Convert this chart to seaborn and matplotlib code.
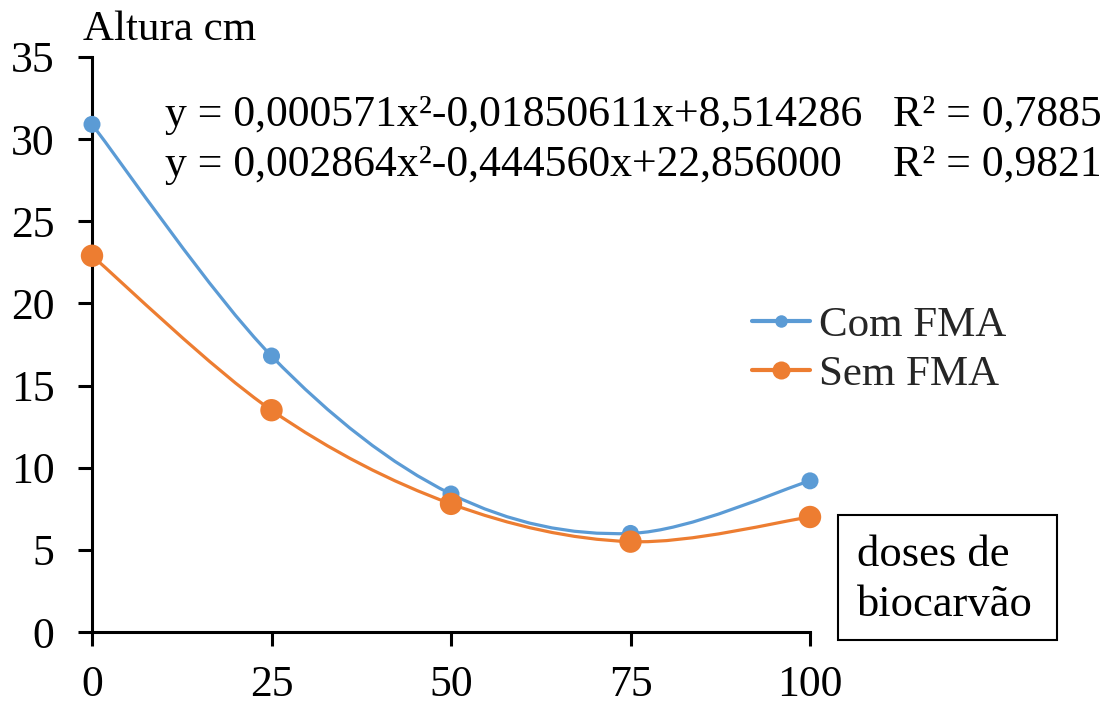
import numpy as np
import pandas as pd
import matplotlib
matplotlib.use("Agg")
import matplotlib.pyplot as plt
import seaborn as sns
from matplotlib.path import Path
from matplotlib.patches import PathPatch, Rectangle
from matplotlib.lines import Line2D

doses = [0, 25, 50, 75, 100]
com_fma = [30.9, 16.8, 8.4, 6.0, 9.2]
sem_fma = [22.9, 13.5, 7.8, 5.5, 7.0]
series_names = ["Com FMA", "Sem FMA"]
y_ticks = [0, 5, 10, 15, 20, 25, 30, 35]
x_ticks = [0, 25, 50, 75, 100]
eq_texts = ["y = 0,000571x²-0,01850611x+8,514286",
            "y = 0,002864x²-0,444560x+22,856000"]
r2_texts = ["R² = 0,7885", "R² = 0,9821"]

blue = "#5B9BD5"
orange = "#ED7D31"

sns.set_theme(style="white")
plt.rcParams["font.family"] = ["Liberation Serif", "DejaVu Serif"]

fig = plt.figure(figsize=(11.1, 7.05), dpi=100)
ax = fig.add_axes([92 / 1110, 1 - 632 / 705, (810 - 92) / 1110, (632 - 57) / 705])

df = pd.DataFrame({
    "dose": doses * 2,
    "altura": com_fma + sem_fma,
    "serie": [series_names[0]] * len(doses) + [series_names[1]] * len(doses),
})


def smooth_path(xs, ys):
    pts = np.column_stack([xs, ys]).astype(float)
    n = len(pts)
    verts = [pts[0]]
    codes = [Path.MOVETO]
    for i in range(n - 1):
        p0 = pts[i - 1] if i > 0 else pts[i]
        p1 = pts[i]
        p2 = pts[i + 1]
        p3 = pts[i + 2] if i + 2 < n else pts[i + 1]
        c1 = p1 + (p2 - p0) / 6.0
        c2 = p2 - (p3 - p1) / 6.0
        verts += [c1, c2, p2]
        codes += [Path.CURVE4] * 3
    return Path(verts, codes)


for name, col in zip(series_names, [blue, orange]):
    sub = df[df["serie"] == name]
    patch = PathPatch(smooth_path(sub["dose"].values, sub["altura"].values),
                      facecolor="none", edgecolor=col, lw=2.3, zorder=2,
                      clip_on=False)
    ax.add_patch(patch)

sns.scatterplot(data=df[df["serie"] == series_names[0]], x="dose", y="altura",
                color=blue, s=150, edgecolor="none", ax=ax, zorder=3,
                clip_on=False, legend=False)
sns.scatterplot(data=df[df["serie"] == series_names[1]], x="dose", y="altura",
                color=orange, s=260, edgecolor="none", ax=ax, zorder=4,
                clip_on=False, legend=False)

ax.set_xlim(0, 100)
ax.set_ylim(0, 35)
ax.set_xticks(x_ticks)
ax.set_yticks(y_ticks)
ax.set_xticklabels([str(v) for v in x_ticks])
ax.set_yticklabels([str(v) for v in y_ticks])
ax.set_xlabel("")
ax.set_ylabel("")
for s in ["top", "right"]:
    ax.spines[s].set_visible(False)
for s in ["left", "bottom"]:
    ax.spines[s].set_color("black")
    ax.spines[s].set_linewidth(2.2)
ax.tick_params(axis="both", which="both", direction="out", color="black",
               width=2.2, length=10, labelsize=31.5, labelcolor="black")
ax.tick_params(axis="y", pad=17, left=True)
ax.tick_params(axis="x", pad=14, bottom=True)

fig.text(83 / 1110, 1 - 30 / 705, "Altura cm", fontsize=31, ha="left",
         va="center", color="black")
for i, (eq, r2) in enumerate(zip(eq_texts, r2_texts)):
    yy = 1 - (115 + 50 * i) / 705
    fig.text(165 / 1110, yy, eq, fontsize=31.5, ha="left", va="center",
             color="black")
    fig.text(1102 / 1110, yy, r2, fontsize=31.5, ha="right", va="center",
             color="black")

handles = [
    Line2D([0], [0], color=blue, lw=3, marker="o", markersize=9,
           markeredgecolor="none"),
    Line2D([0], [0], color=orange, lw=3, marker="o", markersize=13,
           markeredgecolor="none"),
]
fig.legend(handles, series_names, loc="center left",
           bbox_to_anchor=(752 / 1110, 1 - 350 / 705), frameon=False,
           fontsize=31, handlelength=1.35, handletextpad=0.2,
           labelspacing=0.22, borderpad=0, borderaxespad=0)

fig.patches.append(Rectangle((838 / 1110, 1 - 640 / 705), 219 / 1110,
                             125 / 705, transform=fig.transFigure,
                             facecolor="white", edgecolor="black", lw=1.5))
fig.text(857 / 1110, 1 - 580 / 705, "doses de\nbiocarvão", fontsize=32,
         ha="left", va="center", color="black", linespacing=1.3)

fig.savefig("out.png", dpi=100, facecolor="white")
